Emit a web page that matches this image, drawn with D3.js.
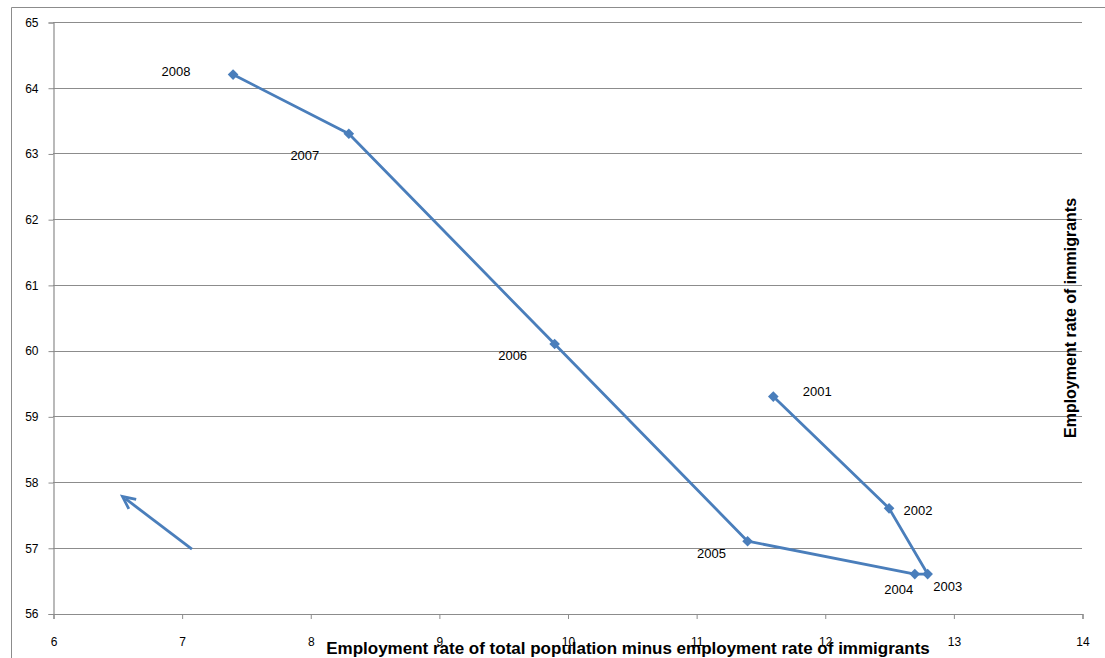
<!DOCTYPE html>
<html>
<head>
<meta charset="utf-8">
<script src="https://cdn.jsdelivr.net/npm/d3@7"></script>
<style>
  html, body { margin: 0; padding: 0; background: #fff; }
  svg { display: block; font-family: "Liberation Sans", Arial, sans-serif; }
</style>
</head>
<body>
<svg id="chart" width="1105" height="658"></svg>
<script>
// Years and the two rates for each year
const years = ["2001", "2002", "2003", "2004", "2005", "2006", "2007", "2008"];
const gapValues = [11.6, 12.5, 12.8, 12.7, 11.4, 9.9, 8.3, 7.4];
const immigrantRates = [59.3, 57.6, 56.6, 56.6, 57.1, 60.1, 63.3, 64.2];

// Label offsets (pixels) relative to each point
const labelDx = [44, 29, 20, -16, -36, -42, -44, -57];
const labelDy = [-4, 3, 13, 16, 13, 13, 23, -2];

// Axis ticks
const xTicks = [6, 7, 8, 9, 10, 11, 12, 13, 14];
const yTicks = [56, 57, 58, 59, 60, 61, 62, 63, 64, 65];

// Direction arrow, in data units: start then end
const arrowX = [7.08, 6.54];
const arrowY = [56.98, 57.78];

const svg = d3.select("#chart");
const blue = "#4a7ebb";

// Outer chart border
svg.append("path")
  .attr("d", "M11.5,670 V7.5 H1110")
  .attr("fill", "none").attr("stroke", "#8c8c8c").attr("stroke-width", 1);

const x = d3.scaleLinear().domain([6, 14]).range([53, 1082]);
const y = d3.scaleLinear().domain([56, 65]).range([613.5, 22]);

// Horizontal gridlines
svg.append("g").selectAll("line").data(yTicks.slice(1)).join("line")
  .attr("x1", x(6)).attr("x2", x(14))
  .attr("y1", d => Math.round(y(d)) + 0.5).attr("y2", d => Math.round(y(d)) + 0.5)
  .attr("stroke", "#8c8c8c").attr("stroke-width", 1.2);

// Y axis
const yAxis = svg.append("g")
  .attr("transform", "translate(53.5,0.5)")
  .call(d3.axisLeft(y).tickValues(yTicks).tickSize(5).tickPadding(10).tickFormat(d3.format("d")));
yAxis.select(".domain").attr("stroke", "#8c8c8c").attr("stroke-width", 1.2);
yAxis.selectAll(".tick line").attr("stroke", "#8c8c8c");
yAxis.selectAll(".tick text").attr("font-size", 12).attr("fill", "#000")
  .attr("font-family", "Liberation Sans, Arial, sans-serif");

// X axis
const xAxis = svg.append("g")
  .attr("transform", "translate(0.5,614)")
  .call(d3.axisBottom(x).tickValues(xTicks).tickSize(5).tickPadding(18).tickFormat(d3.format("d")));
xAxis.select(".domain").attr("stroke", "#8c8c8c").attr("stroke-width", 1.2);
xAxis.selectAll(".tick line").attr("stroke", "#8c8c8c");
xAxis.selectAll(".tick text").attr("font-size", 12).attr("fill", "#000")
  .attr("font-family", "Liberation Sans, Arial, sans-serif");

// Connected path through the years
const pts = years.map((yr, i) => ({ yr, gx: gapValues[i], ir: immigrantRates[i], dx: labelDx[i], dy: labelDy[i] }));
svg.append("path")
  .datum(pts)
  .attr("d", d3.line().x(d => x(d.gx)).y(d => y(d.ir)))
  .attr("fill", "none").attr("stroke", blue).attr("stroke-width", 2.8)
  .attr("stroke-linejoin", "round");

// Diamond markers
svg.append("g").selectAll("path").data(pts).join("path")
  .attr("transform", d => `translate(${x(d.gx)},${y(d.ir)})`)
  .attr("d", d3.symbol(d3.symbolDiamond2, 72))
  .attr("fill", blue);

// Year labels
svg.append("g").selectAll("text").data(pts).join("text")
  .attr("x", d => x(d.gx) + d.dx).attr("y", d => y(d.ir) + d.dy)
  .attr("text-anchor", "middle").attr("dominant-baseline", "middle")
  .attr("font-size", 13).attr("fill", "#000")
  .text(d => d.yr);

// Arrow showing direction of time
const ax0 = x(arrowX[0]), ay0 = y(arrowY[0]), ax1 = x(arrowX[1]), ay1 = y(arrowY[1]);
svg.append("line")
  .attr("x1", ax0).attr("y1", ay0).attr("x2", ax1 + 3).attr("y2", ay1 + 2.2)
  .attr("stroke", blue).attr("stroke-width", 2.8);
const ang = Math.atan2(ay1 - ay0, ax1 - ax0);
const hl = 14, hw = 0.45;
svg.append("path")
  .attr("d", `M${ax1 - hl * Math.cos(ang - hw)},${ay1 - hl * Math.sin(ang - hw)} L${ax1},${ay1} L${ax1 - hl * Math.cos(ang + hw)},${ay1 - hl * Math.sin(ang + hw)}`)
  .attr("fill", "none").attr("stroke", blue).attr("stroke-width", 2.8);

// Axis titles
svg.append("text")
  .attr("x", 628).attr("y", 654)
  .attr("text-anchor", "middle")
  .attr("font-size", 17).attr("font-weight", "bold").attr("fill", "#000")
  .text("Employment rate of total population minus employment rate of immigrants");

svg.append("text")
  .attr("transform", "translate(1076,318) rotate(-90)")
  .attr("text-anchor", "middle")
  .attr("font-size", 16).attr("font-weight", "bold").attr("fill", "#000")
  .text("Employment rate of immigrants");
</script>
</body>
</html>
